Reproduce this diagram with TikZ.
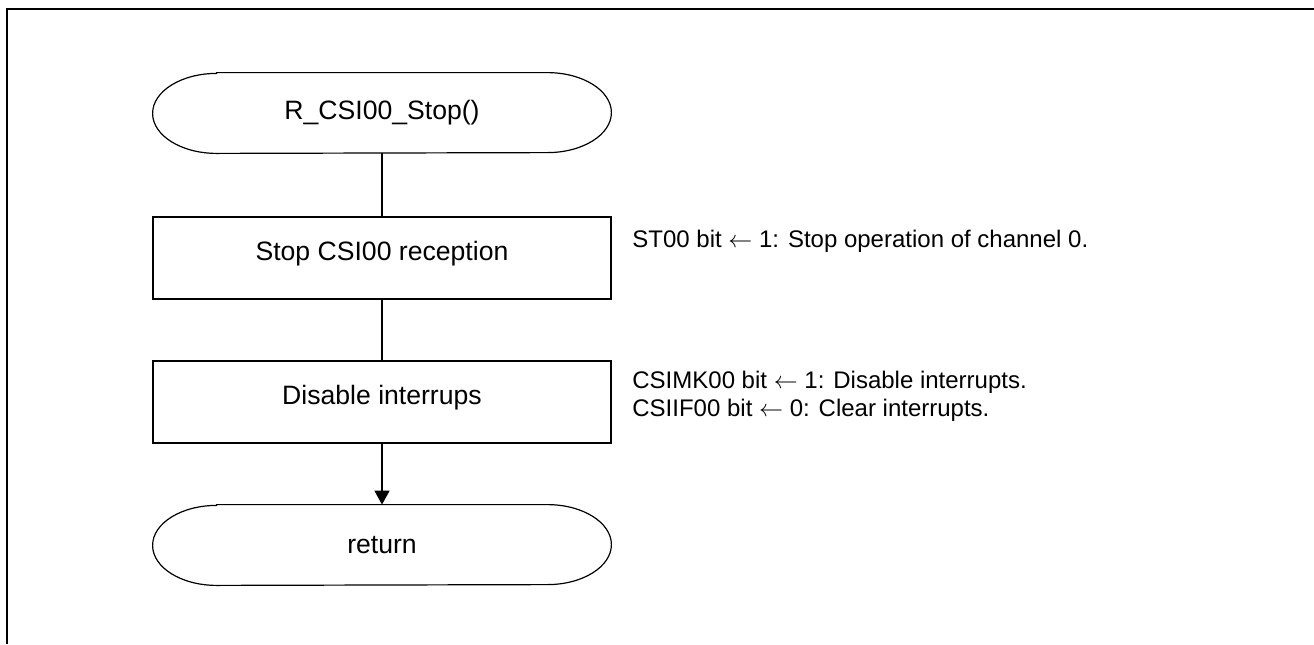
\documentclass[tikz,border=0pt]{standalone}
\usepackage{fontspec}
\setmainfont{Liberation Sans}
\usetikzlibrary{arrows.meta}
\tikzset{
  procbox/.style={draw, line width=0.6pt, minimum width=229pt, minimum height=41pt,
    font=\fontsize{13.3}{16}\selectfont, text height=10pt, text depth=8pt},
  termbox/.style={minimum width=229pt, minimum height=40pt, font=\fontsize{13.3}{16}\selectfont},
  note/.style={anchor=base west, inner sep=0pt, align=left, font=\fontsize{12}{14}\selectfont},
  flow/.style={line width=0.8pt}
}
\newcommand{\termshape}[1]{%
  \draw[line width=0.6pt] ([xshift=32pt]#1.north west) -- ([xshift=-32pt]#1.north east)
    arc[start angle=90, end angle=-90, x radius=32pt, y radius=20pt]
    -- ([xshift=32pt]#1.south west)
    arc[start angle=270, end angle=90, x radius=32pt, y radius=20pt] -- cycle;}
\begin{document}
\begin{tikzpicture}[x=0.5pt, y=-0.5pt]
\useasboundingbox (0,0) rectangle (1314,644);
\draw[line width=1.3pt] (7,644) -- (7,9) -- (1314,9);

\node[termbox](start) at (382,113) {R\_CSI00\_Stop()};
\termshape{start}
\node[procbox](stop) at (382,258) {Stop CSI00 reception};
\node[procbox](disable) at (382,402) {Disable interrups};
\node[termbox](ret) at (382,545) {return};
\termshape{ret}

\draw[flow] (start) -- (stop);
\draw[flow] (stop) -- (disable);
\draw[flow, -{Triangle[width=7.5pt, length=7pt]}] (disable) -- (ret);

\node[note](stopnote) at (632,247) {ST00 bit $\leftarrow$ 1: Stop operation of channel 0.};
\node[note](disnote) at (632,416) {CSIMK00 bit $\leftarrow$ 1: Disable interrupts.\\CSIIF00 bit $\leftarrow$ 0: Clear interrupts.};
\end{tikzpicture}
\end{document}
